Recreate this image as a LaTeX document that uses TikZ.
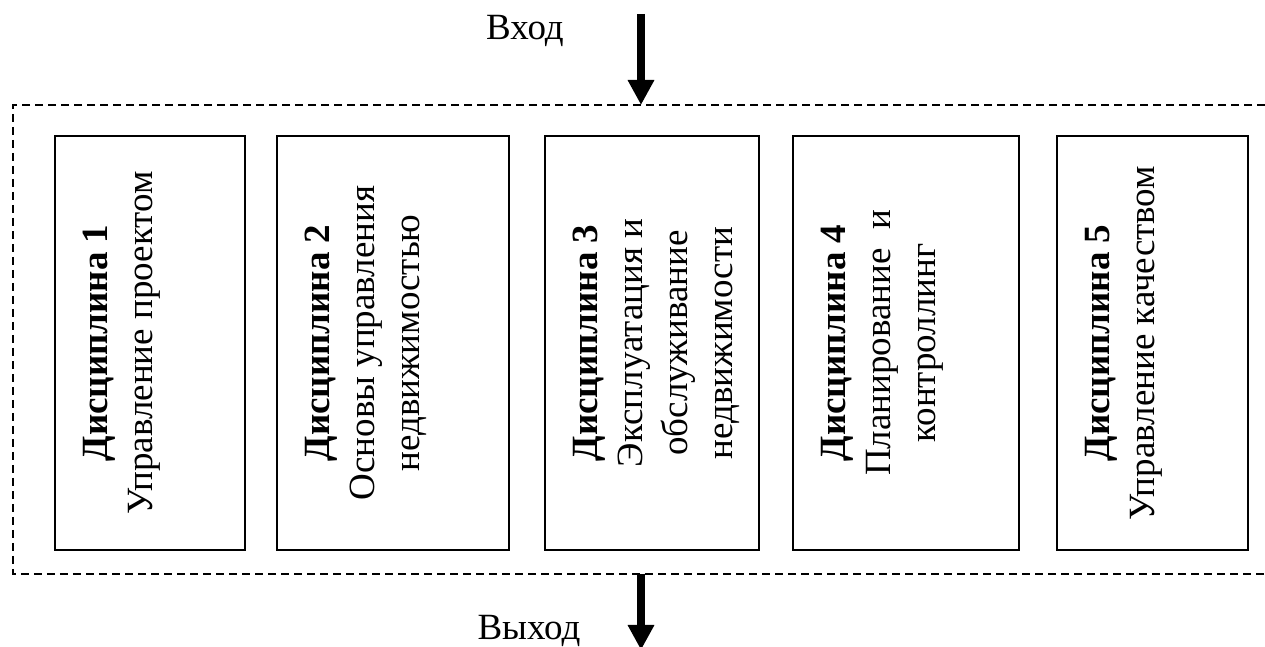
\documentclass[tikz,border=0pt]{standalone}
\usepackage{fontspec}
\setmainfont{Liberation Serif}
\usetikzlibrary{arrows.meta}

\tikzset{
  disc/.style={draw, line width=1.5pt, minimum height=414pt, inner sep=0pt},
  disctext/.style={rotate=90, anchor=north, align=center, inner sep=0pt,
                   font=\fontsize{37}{45}\selectfont},
  lbl/.style={inner sep=0pt, font=\fontsize{37}{45}\selectfont},
  flow/.style={line width=8pt, -{Triangle[length=25pt,width=25pt]}},
  frame/.style={line width=1.6pt, dash pattern=on 8pt off 5pt}
}

\begin{document}
\begin{tikzpicture}[x=1pt,y=1pt]

\useasboundingbox (0,0) rectangle (1265,647);

% dashed frame, open at the right
\draw[frame] (1265,542) -- (13,542) -- (13,73) -- (1265,73);

% disciplines
\foreach \i/\cx/\w/\txt in {
    1/150/190/{\textbf{Дисциплина 1}\\Управление проектом},
    2/393/232/{\textbf{Дисциплина 2}\\Основы управления\\недвижимостью},
    3/652/214/{\textbf{Дисциплина 3}\\Эксплуатация и\\обслуживание\\недвижимости},
    4/906/226/{\textbf{Дисциплина 4}\\Планирование\ \ и\\контроллинг},
    5/1152.5/191/{\textbf{Дисциплина 5}\\Управление качеством}}
{
    \node[disc, minimum width=\w pt] (d\i) at (\cx,304) {};
    \node[disctext] (t\i) at ([xshift=29pt]d\i.west) {\txt};
}

% input and output
\coordinate (in) at (641,633);
\coordinate (intop) at (641,542);
\coordinate (outtop) at (641,73);
\coordinate (out) at (641,-3);

\draw[flow] (in) -- (intop);
\draw[flow] (outtop) -- (out);

\node[lbl, anchor=base] (inlbl) at (525,607) {Вход};
\node[lbl, anchor=base] (outlbl) at (529,7) {Выход};

\end{tikzpicture}
\end{document}
